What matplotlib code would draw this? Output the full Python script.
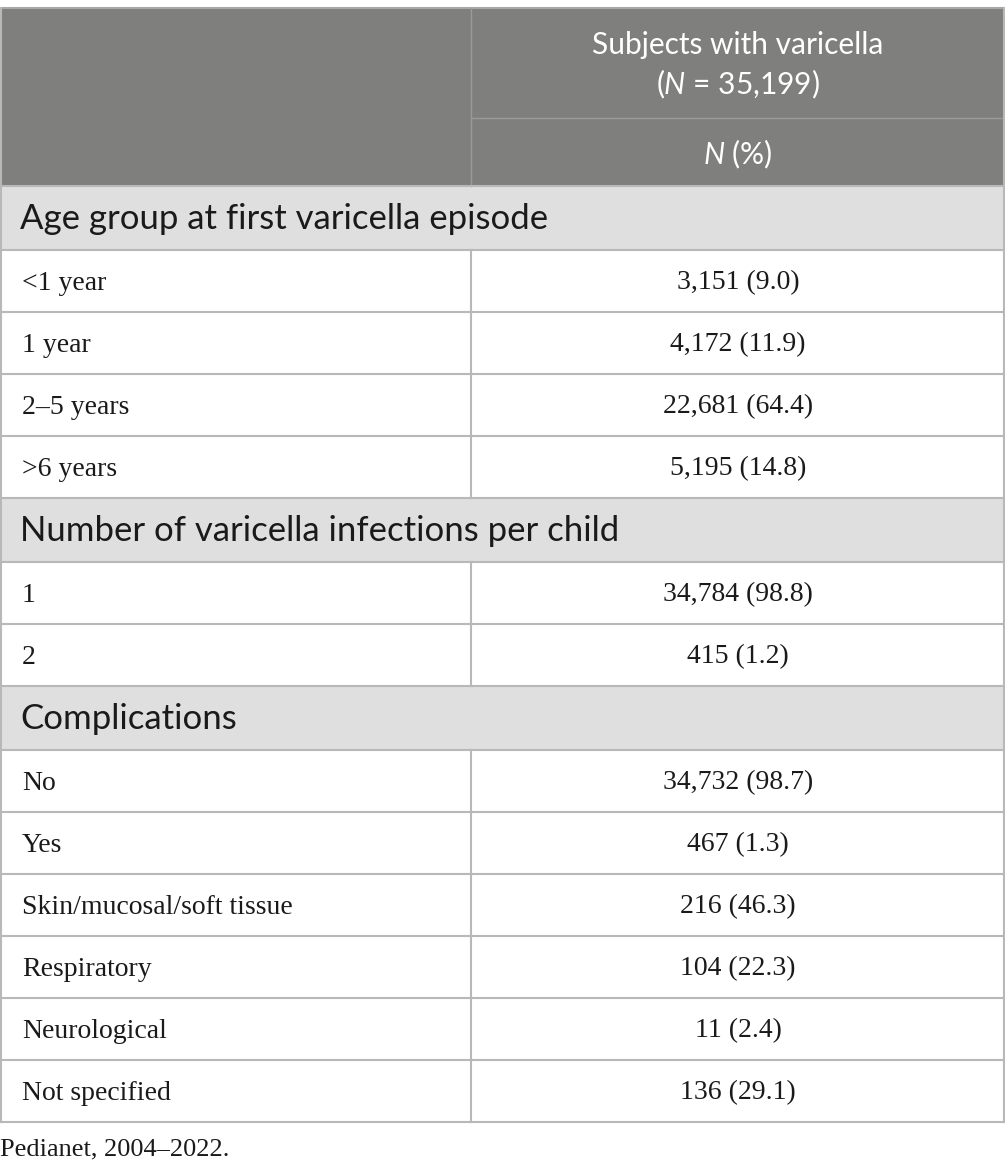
import matplotlib
matplotlib.use("Agg")
import matplotlib.pyplot as plt
from matplotlib.patches import Rectangle

plt.rcParams["mathtext.fontset"] = "custom"
plt.rcParams["mathtext.rm"] = "Lato"
plt.rcParams["mathtext.it"] = "Lato:italic"

# table content
sections = ["Age group at first varicella episode",
            "Number of varicella infections per child",
            "Complications"]
row_labels = [
    ["<1 year", "1 year", "2\u20135 years", ">6 years"],
    ["1", "2"],
    ["No", "Yes", "Skin/mucosal/soft tissue", "Respiratory",
     "Neurological", "Not specified"],
]
row_values = [
    ["3,151 (9.0)", "4,172 (11.9)", "22,681 (64.4)", "5,195 (14.8)"],
    ["34,784 (98.8)", "415 (1.2)"],
    ["34,732 (98.7)", "467 (1.3)", "216 (46.3)", "104 (22.3)",
     "11 (2.4)", "136 (29.1)"],
]
header_top = "Subjects with varicella"
header_n = "($\\mathit{N}$ = 35,199)"
header_sub = "$\\mathit{N}$ (%)"
footnote = "Pedianet, 2004\u20132022."

W, H = 1005, 1175
HEAD_BG = "#7f807e"
SEC_BG = "#e0dfe0"
LINE = "#b8b8b8"
SANS = "Lato"
SERIF = "Liberation Serif"

fig = plt.figure(figsize=(W / 100, H / 100), dpi=100)
ax = fig.add_axes([0, 0, 1, 1])
ax.set_xlim(0, W)
ax.set_ylim(H, 0)
ax.axis("off")

x_div = 471
x_mid = (x_div + W) / 2
top = 8
head_bot = 186
sub_line = 118
sec_h = 64
row_h = 62

# header block
ax.add_patch(Rectangle((0, top), W, head_bot - top, facecolor=HEAD_BG,
                       edgecolor="none"))
ax.plot([0, W], [top, top], color="#a8a8a8", lw=1.5)
ax.plot([x_div, x_div], [top, head_bot], color="#9a9a9a", lw=1)
ax.plot([x_div, W], [sub_line, sub_line], color="#9a9a9a", lw=1)
ax.text(x_mid, 45, header_top, ha="center", va="center", color="white",
        fontsize=21.5, family=SANS)
ax.text(x_mid, 84, header_n, ha="center", va="center", color="white",
        fontsize=21.5, family=SANS)
ax.text(x_mid, 154, header_sub, ha="center", va="center", color="white",
        fontsize=21.5, family=SANS)

y = head_bot
for sec, labels, values in zip(sections, row_labels, row_values):
    ax.add_patch(Rectangle((0, y), W, sec_h, facecolor=SEC_BG,
                           edgecolor="none"))
    ax.text(20, y + sec_h / 2 + 1, sec, ha="left", va="center",
            color="#1a1a1a", fontsize=25, family=SANS)
    ax.plot([0, W], [y, y], color=LINE, lw=1.5)
    y += sec_h
    for lab, val in zip(labels, values):
        ax.plot([0, W], [y, y], color=LINE, lw=1.5)
        ax.plot([x_div, x_div], [y, y + row_h], color=LINE, lw=1.5)
        ax.text(22, y + row_h / 2 + 2, lab, ha="left", va="center",
                color="#1a1a1a", fontsize=20, family=SERIF)
        ax.text(x_mid, y + row_h / 2 + 2, val, ha="center", va="center",
                color="#1a1a1a", fontsize=20, family=SERIF)
        y += row_h
ax.plot([0, W], [y, y], color=LINE, lw=1.5)
ax.plot([0.75, 0.75], [top, y], color=LINE, lw=1.5)
ax.plot([W - 0.75, W - 0.75], [top, y], color=LINE, lw=1.5)

ax.text(0, 1149, footnote, ha="left", va="center", color="#1a1a1a",
        fontsize=19, family=SERIF)

fig.savefig("out.png", dpi=100)
